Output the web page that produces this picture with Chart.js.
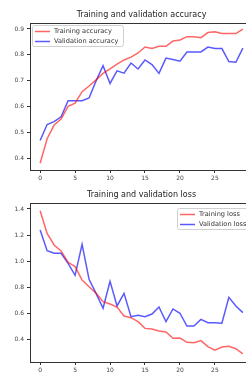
<!DOCTYPE html>
<html>
<head>
<meta charset="utf-8">
<script src="https://cdn.jsdelivr.net/npm/chart.js@4.4.0/dist/chart.umd.min.js"></script>
<style>
    html, body { margin: 0; padding: 0; background: #fff; overflow: hidden; width: 246px; height: 373px; }
    .wrap { position: absolute; left: 0; width: 260px; height: 200px; }
</style>
</head>
<body>
<div class="wrap" style="top:0"><canvas id="accChart"></canvas></div>
<div class="wrap" style="top:180px"><canvas id="lossChart"></canvas></div>
<script>
const epochs = Array.from({ length: 30 }, (_, i) => i);

const trainAcc = [0.38, 0.475, 0.528, 0.551, 0.600, 0.613, 0.657, 0.679, 0.703, 0.728,
    0.745, 0.764, 0.780, 0.791, 0.807, 0.830, 0.824, 0.833, 0.833, 0.853,
    0.857, 0.870, 0.870, 0.866, 0.886, 0.889, 0.882, 0.882, 0.882, 0.899];
const valAcc = [0.468, 0.530, 0.541, 0.560, 0.622, 0.622, 0.622, 0.633, 0.699, 0.758,
    0.689, 0.738, 0.729, 0.768, 0.745, 0.780, 0.762, 0.728, 0.787, 0.782,
    0.775, 0.811, 0.811, 0.811, 0.830, 0.824, 0.824, 0.774, 0.771, 0.826];

const trainLoss = [1.387, 1.213, 1.124, 1.078, 0.991, 0.958, 0.855, 0.804, 0.753, 0.689,
    0.671, 0.648, 0.579, 0.566, 0.536, 0.484, 0.479, 0.464, 0.456, 0.408,
    0.410, 0.377, 0.374, 0.390, 0.344, 0.316, 0.341, 0.346, 0.328, 0.288];
const valLoss = [1.239, 1.080, 1.060, 1.060, 0.983, 0.891, 1.129, 0.860, 0.753, 0.638,
    0.845, 0.656, 0.753, 0.574, 0.584, 0.574, 0.594, 0.648, 0.536, 0.633,
    0.600, 0.502, 0.502, 0.553, 0.528, 0.528, 0.523, 0.722, 0.656, 0.605];

const xTicks = [0, 5, 10, 15, 20, 25];
const accTicks = [0.4, 0.5, 0.6, 0.7, 0.8, 0.9];
const lossTicks = [0.4, 0.6, 0.8, 1.0, 1.2, 1.4];

const FONT = "'DejaVu Sans', sans-serif";
const RED = 'rgba(255, 0, 0, 0.6)';
const BLUE = 'rgba(0, 0, 255, 0.65)';

// matplotlib-like frame, centred title and boxed legend
const decorPlugin = {
    id: 'decor',
    afterDraw(chart, args, opts) {
        const ctx = chart.ctx;
        const a = chart.chartArea;
        ctx.save();
        ctx.strokeStyle = '#333';
        ctx.lineWidth = 1;
        ctx.strokeRect(Math.round(a.left) + 0.5, Math.round(a.top) + 0.5,
            Math.round(a.right - a.left), Math.round(a.bottom - a.top));

        ctx.fillStyle = '#222';
        ctx.font = '8px ' + FONT;
        ctx.textAlign = 'center';
        ctx.textBaseline = 'middle';
        ctx.fillText(opts.title, (a.left + a.right) / 2, a.top - 8);

        const lg = opts.legend;
        ctx.fillStyle = 'rgba(255,255,255,0.8)';
        ctx.strokeStyle = '#d0d0d0';
        ctx.beginPath();
        ctx.roundRect(lg.x + 0.5, lg.y + 0.5, lg.w, lg.h, 2);
        ctx.fill();
        ctx.stroke();
        ctx.font = '6.6px ' + FONT;
        ctx.textAlign = 'left';
        chart.data.datasets.forEach(function (ds, i) {
            const y = lg.y + 6.5 + i * 10;
            ctx.strokeStyle = ds.borderColor;
            ctx.lineWidth = 1.5;
            ctx.beginPath();
            ctx.moveTo(lg.x + 3, y);
            ctx.lineTo(lg.x + 18, y);
            ctx.stroke();
            ctx.fillStyle = '#333';
            ctx.fillText(ds.label, lg.x + 22, y);
        });
        ctx.restore();
    }
};

function createLineChart(canvasId, labels, values, yTicks, yMin, yMax, xHeight, title, legend) {
    const ctx = document.getElementById(canvasId).getContext('2d');
    return new Chart(ctx, {
        type: 'line',
        data: {
            datasets: [
                { label: labels[0], data: epochs.map((e, i) => ({ x: e, y: values[0][i] })), borderColor: RED },
                { label: labels[1], data: epochs.map((e, i) => ({ x: e, y: values[1][i] })), borderColor: BLUE }
            ]
        },
        options: {
            responsive: true,
            maintainAspectRatio: false,
            animation: false,
            layout: { padding: { left: 0, top: 23, right: 7, bottom: 0 } },
            elements: {
                point: { radius: 0 },
                line: { borderWidth: 1.5, tension: 0 }
            },
            plugins: {
                legend: { display: false },
                tooltip: { enabled: false },
                decor: { title: title, legend: legend }
            },
            scales: {
                x: {
                    type: 'linear',
                    min: -1.45,
                    max: 30.45,
                    afterBuildTicks: function (scale) { scale.ticks = xTicks.map(v => ({ value: v })); },
                    afterFit: function (scale) { scale.height = xHeight; },
                    grid: { drawOnChartArea: false, tickLength: 3, color: '#333' },
                    border: { display: false },
                    ticks: { color: '#444', font: { family: FONT, size: 6 }, padding: 2, maxRotation: 0 }
                },
                y: {
                    min: yMin,
                    max: yMax,
                    afterBuildTicks: function (scale) { scale.ticks = yTicks.map(v => ({ value: v })); },
                    afterFit: function (scale) { scale.width = 30; },
                    grid: { drawOnChartArea: false, tickLength: 3, color: '#333' },
                    border: { display: false },
                    ticks: {
                        color: '#444', font: { family: FONT, size: 6 }, padding: 3,
                        callback: function (v) { return v.toFixed(1); }
                    }
                }
            }
        },
        plugins: [decorPlugin]
    });
}

createLineChart('accChart', ['Training accuracy', 'Validation accuracy'], [trainAcc, valAcc],
    accTicks, 0.354, 0.923, 30, 'Training and validation accuracy', { x: 32, y: 25, w: 91, h: 21 });
createLineChart('lossChart', ['Training loss', 'Validation loss'], [trainLoss, valLoss],
    lossTicks, 0.226, 1.446, 18, 'Training and validation loss', { x: 177, y: 28, w: 80, h: 21 });
</script>
</body>
</html>
